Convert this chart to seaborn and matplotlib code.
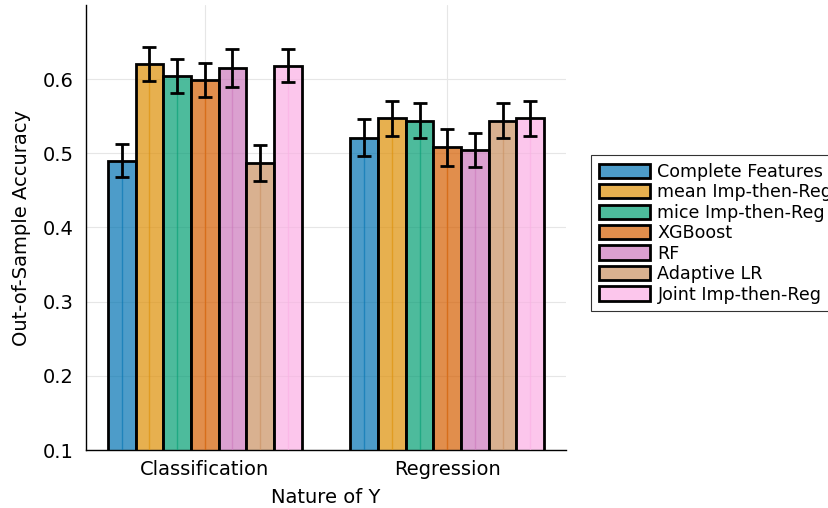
import numpy as np
import pandas as pd
import matplotlib
matplotlib.use("Agg")
import matplotlib.pyplot as plt
import seaborn as sns
from matplotlib.colors import to_rgba

# data
groups = ["Classification", "Regression"]
methods = ["Complete Features", "mean Imp-then-Reg", "mice Imp-then-Reg",
           "XGBoost", "RF", "Adaptive LR", "Joint Imp-then-Reg"]
acc_classification = [0.490, 0.620, 0.604, 0.599, 0.615, 0.487, 0.618]
acc_regression = [0.521, 0.547, 0.544, 0.508, 0.505, 0.544, 0.547]
err_classification = [0.022, 0.023, 0.023, 0.023, 0.025, 0.024, 0.022]
err_regression = [0.025, 0.024, 0.024, 0.025, 0.023, 0.024, 0.024]

colors = ["#0173b2", "#de8f05", "#029e73", "#d55e00", "#cc78bc", "#ca9161", "#fbafe4"]
fill = [to_rgba(c, 0.7) for c in colors]

df = pd.DataFrame({
    "group": np.repeat(groups, len(methods)),
    "method": methods * 2,
    "acc": acc_classification + acc_regression,
    "err": err_classification + err_regression,
})

sns.set_style("white")
plt.rcParams["font.family"] = ["DejaVu Sans"]
plt.rcParams["text.color"] = "black"
plt.rcParams["axes.labelcolor"] = "black"

fig = plt.figure(figsize=(8.29, 5.08), dpi=100)
ax = fig.add_axes([86 / 829, 1 - 450 / 508, 480 / 829, 445 / 508])

sns.barplot(data=df, x="group", y="acc", hue="method", hue_order=methods,
            palette=fill, width=0.8, saturation=1, edgecolor="black",
            linewidth=2, errorbar=None, ax=ax, legend=False)

# error bars + thin centre line, matched to seaborn's bar positions (hue-major order)
lookup = {(g, m): e for g, m, e in zip(df["group"], df["method"], df["err"])}
bars = ax.patches[:len(df)]
k = 0
for i, m in enumerate(methods):
    for g in groups:
        b = bars[k]
        cx = b.get_x() + b.get_width() / 2
        ax.vlines(cx, 0.1, b.get_height(), color=colors[i], alpha=0.6, linewidth=1, zorder=4)
        ax.errorbar(cx, b.get_height(), yerr=lookup[(g, m)],
                    color="black", capsize=5, capthick=2, elinewidth=2, fmt="none", zorder=5)
        k += 1

ax.set_ylim(0.1, 0.70)
ax.set_xlim(-0.49, 1.49)
ax.set_yticks([0.1, 0.2, 0.3, 0.4, 0.5, 0.6])
ax.grid(True, color="#e6e6e6", linewidth=0.8)
ax.set_axisbelow(True)
for s in ["top", "right"]:
    ax.spines[s].set_visible(False)
for s in ["left", "bottom"]:
    ax.spines[s].set_color("black")
    ax.spines[s].set_linewidth(1)
ax.tick_params(axis="both", labelsize=14, length=3, direction="in", colors="black")
ax.tick_params(axis="y", pad=9)
ax.tick_params(axis="x", pad=7)
ax.set_xlabel("Nature of Y", fontsize=14, labelpad=7)
ax.set_ylabel("Out-of-Sample Accuracy", fontsize=14, labelpad=8)

handles = [plt.Rectangle((0, 0), 1, 1, facecolor=f, edgecolor="black", linewidth=2)
           for f in fill]
leg = fig.legend(handles, methods, loc="upper left", bbox_to_anchor=(591 / 829, 1 - 155 / 508),
                 fontsize=12.6, frameon=True, fancybox=False, edgecolor="black",
                 handlelength=2.95, handleheight=0.88, labelspacing=0.14,
                 handletextpad=0.4, borderpad=0.45, borderaxespad=0)
leg.get_frame().set_linewidth(0.8)

fig.savefig("out.png", dpi=100)
